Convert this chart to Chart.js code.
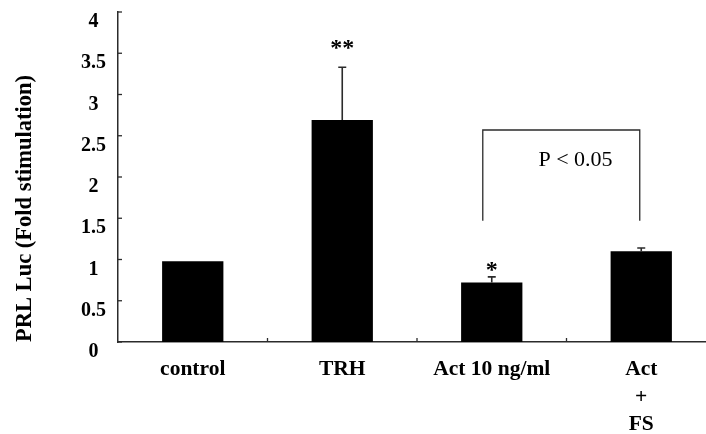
<!DOCTYPE html>
<html>
<head>
<meta charset="utf-8">
<script src="https://cdn.jsdelivr.net/npm/chart.js@4"></script>
<style>
  html, body { margin: 0; padding: 0; background: #fff; overflow: hidden; }
  #wrap { width: 706px; height: 434px; overflow: hidden; }
</style>
</head>
<body>
<div id="wrap"><canvas id="myChart" width="716" height="434"></canvas></div>
<script>
// values
const categories = ['control', 'TRH', 'Act 10 ng/ml', ['Act', '+', 'FS']]
const foldValues = [0.98, 2.69, 0.72, 1.10]
const errorValues = [0, 0.64, 0.07, 0.04]
const starLabels = ['', '**', '*', '']
const starLevels = [null, 3.6, 0.91, null]
const yMax = 4
const yStep = 0.5

// significance bracket between Act and Act + FS
const bracketX = [1.94, 2.99]
const bracketY = [1.47, 2.57]
const pText = 'P < 0.05'
const pPos = [2.56, 2.2]

const serif = "'Liberation Serif', 'Times New Roman', serif"
const axisColor = '#2b2b2b'

// inward ticks, error bars and annotations
const extras = {
  id: 'extras',
  afterDatasetsDraw(chart) {
    const ctx = chart.ctx
    const x = chart.scales.x
    const y = chart.scales.y
    const area = chart.chartArea
    ctx.save()
    ctx.strokeStyle = axisColor
    ctx.lineWidth = 1.3

    // y ticks pointing into the plot
    y.ticks.forEach(t => {
      const py = y.getPixelForValue(t.value)
      ctx.beginPath()
      ctx.moveTo(area.left, py)
      ctx.lineTo(area.left + 4, py)
      ctx.stroke()
    })
    // x ticks between categories
    for (let i = 1; i < categories.length; i++) {
      const px = x.getPixelForValue(i - 0.5)
      ctx.beginPath()
      ctx.moveTo(px, area.bottom)
      ctx.lineTo(px, area.bottom - 4)
      ctx.stroke()
    }

    // error bars (upper half only)
    ctx.lineWidth = 1.6
    foldValues.forEach((v, i) => {
      if (!errorValues[i]) return
      const px = x.getPixelForValue(i)
      const top = y.getPixelForValue(v + errorValues[i])
      const base = y.getPixelForValue(v)
      ctx.beginPath()
      ctx.moveTo(px, base)
      ctx.lineTo(px, top)
      ctx.moveTo(px - 4, top)
      ctx.lineTo(px + 4, top)
      ctx.stroke()
    })

    // asterisks
    ctx.fillStyle = '#000'
    ctx.font = 'bold 24px ' + serif
    ctx.textAlign = 'center'
    ctx.textBaseline = 'middle'
    starLabels.forEach((s, i) => {
      if (!s) return
      ctx.fillText(s, x.getPixelForValue(i), y.getPixelForValue(starLevels[i]) + 4)
    })

    // bracket
    ctx.lineWidth = 1.3
    const bx1 = x.getPixelForValue(bracketX[0])
    const bx2 = x.getPixelForValue(bracketX[1])
    const byLow = y.getPixelForValue(bracketY[0])
    const byTop = y.getPixelForValue(bracketY[1])
    ctx.beginPath()
    ctx.moveTo(bx1, byLow)
    ctx.lineTo(bx1, byTop)
    ctx.lineTo(bx2, byTop)
    ctx.lineTo(bx2, byLow)
    ctx.stroke()

    ctx.font = '22px ' + serif
    ctx.fillText(pText, x.getPixelForValue(pPos[0]), y.getPixelForValue(pPos[1]))
    ctx.restore()
  }
}

let ctx = document.getElementById('myChart').getContext('2d')
let chart = new Chart(ctx, {
  type: 'bar',
  data: {
    labels: categories,
    datasets: [{
      data: foldValues,
      backgroundColor: '#000',
      borderWidth: 0,
      barPercentage: 0.41,
      categoryPercentage: 1
    }]
  },
  options: {
    responsive: false,
    animation: false,
    devicePixelRatio: 1,
    layout: { padding: 0 },
    plugins: {
      legend: { display: false },
      tooltip: { enabled: false }
    },
    scales: {
      x: {
        grid: { display: false, drawTicks: false },
        border: { display: true, color: axisColor, width: 1.5 },
        ticks: {
          color: '#000',
          padding: 14,
          maxRotation: 0,
          autoSkip: false,
          font: { family: serif, size: 21.5, weight: 'bold', lineHeight: 1.27 }
        },
        afterFit: s => { s.height = 92 }
      },
      y: {
        min: 0,
        max: yMax,
        grid: { display: false, drawTicks: false },
        border: { display: true, color: axisColor, width: 1.5 },
        ticks: {
          stepSize: yStep,
          color: '#000',
          padding: 12,
          crossAlign: 'center',
          labelOffset: 10,
          callback: v => String(v),
          font: { family: serif, size: 20, weight: 'bold' }
        },
        title: {
          display: true,
          text: 'PRL Luc (Fold stimulation)',
          align: 'start',
          color: '#000',
          padding: { top: 12, bottom: 0 },
          font: { family: serif, size: 22.5, weight: 'bold' }
        },
        afterFit: s => {
          s.width = 118
          s.paddingTop = 12
          s.paddingBottom = 0
        }
      }
    }
  },
  plugins: [extras]
})
</script>
</body>
</html>
